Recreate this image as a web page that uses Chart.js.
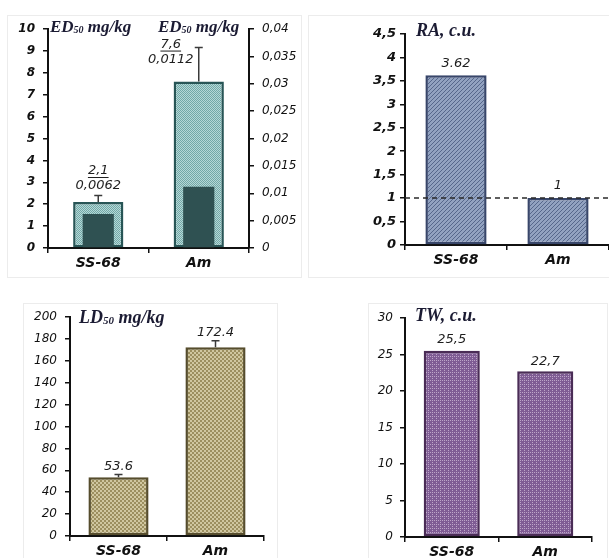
<!DOCTYPE html>
<html>
<head>
<meta charset="utf-8">
<title>ED50, RA, LD50, TW</title>
<script src="https://cdn.jsdelivr.net/npm/chart.js@4"></script>
<style>
body { margin: 0; background: #fff; }
#wrap { position: relative; width: 609px; height: 558px; overflow: hidden; }
canvas, .frame { position: absolute; }
.frame { border: 1px solid #ececec; box-sizing: border-box; }
</style>
</head>
<body>
<div id="wrap">
  <div class="frame" style="left:7px;top:15px;width:295px;height:263px"></div>
  <div class="frame" style="left:308px;top:15px;width:310px;height:263px"></div>
  <div class="frame" style="left:23px;top:303px;width:255px;height:270px"></div>
  <div class="frame" style="left:368px;top:303px;width:240px;height:270px"></div>
  <canvas id="edChart" width="300" height="280" style="left:0;top:0"></canvas>
  <canvas id="raChart" width="309" height="280" style="left:300px;top:0"></canvas>
  <canvas id="ldChart" width="300" height="278" style="left:0;top:280px"></canvas>
  <canvas id="twChart" width="309" height="278" style="left:300px;top:280px"></canvas>
</div>
<script>
const categories = ['SS-68', 'Am'];

// ED50, mg/kg (left axis) and the dark inner bars (right axis)
const ed50Doses = [2.1, 7.6];
const ed50Errors = [0.3, 1.55];
const ed50Molar = [0.0062, 0.0112];

// relative activity
const raValues = [3.62, 1];
const raReference = 1;

// LD50, mg/kg
const ld50Doses = [53.6, 172.4];
const ld50Errors = [2.5, 6];

// therapeutic width
const twValues = [25.5, 22.7];

const edTicks = [0, 1, 2, 3, 4, 5, 6, 7, 8, 9, 10];
const edMolarTicks = [0, 0.005, 0.01, 0.015, 0.02, 0.025, 0.03, 0.035, 0.04];
const raTicks = [0, 0.5, 1, 1.5, 2, 2.5, 3, 3.5, 4, 4.5];
const ldTicks = [0, 20, 40, 60, 80, 100, 120, 140, 160, 180, 200];
const twTicks = [0, 5, 10, 15, 20, 25, 30];

const comma = v => String(v).replace('.', ',');
const dot = v => String(v);

function makePattern(size, draw) {
    let c = document.createElement('canvas');
    c.width = c.height = size;
    let g = c.getContext('2d');
    draw(g, size);
    return g.createPattern(c, 'repeat');
}

const tealPattern = makePattern(2, g => {
    g.fillStyle = '#b6d8d7'; g.fillRect(0, 0, 2, 2);
    g.fillStyle = '#72a8a7'; g.fillRect(0, 0, 1, 1); g.fillRect(1, 1, 1, 1);
});
const bluePattern = makePattern(4, (g, s) => {
    g.fillStyle = '#92a2c0'; g.fillRect(0, 0, s, s);
    g.fillStyle = '#56678b';
    for (let i = 0; i < s; i++) g.fillRect(i, s - 1 - i, 1, 1);
});
const khakiPattern = makePattern(4, g => {
    g.fillStyle = '#d0c7a0'; g.fillRect(0, 0, 4, 4);
    g.fillStyle = '#9c8f5f'; g.fillRect(0, 0, 2, 2); g.fillRect(2, 2, 2, 2);
});
const purplePattern = makePattern(4, g => {
    g.fillStyle = '#7f5c94'; g.fillRect(0, 0, 4, 4);
    g.fillStyle = '#bda5c8';
    g.fillRect(0, 0, 1, 1); g.fillRect(2, 0, 1, 1); g.fillRect(0, 2, 1, 1);
});

const extras = {
    id: 'extras',
    afterDatasetsDraw(chart, args, o) {
        const ctx = chart.ctx;
        const area = chart.chartArea;
        ctx.save();

        if (o.refLine) {
            let y = chart.scales[o.refLine.axis].getPixelForValue(o.refLine.value);
            ctx.strokeStyle = '#2a2a2a';
            ctx.lineWidth = 1.5;
            ctx.setLineDash([5, 4]);
            ctx.beginPath();
            ctx.moveTo(area.left, y);
            ctx.lineTo(area.right, y);
            ctx.stroke();
            ctx.setLineDash([]);
        }

        if (o.errors) {
            let e = o.errors;
            let meta = chart.getDatasetMeta(e.dataset);
            let scale = chart.scales[meta.yAxisID];
            let data = chart.data.datasets[e.dataset].data;
            ctx.strokeStyle = '#3a3a3a';
            ctx.lineWidth = 1.5;
            meta.data.forEach((bar, i) => {
                let top = scale.getPixelForValue(data[i] + e.values[i]);
                ctx.beginPath();
                ctx.moveTo(bar.x, bar.y);
                ctx.lineTo(bar.x, top);
                ctx.moveTo(bar.x - e.cap, top);
                ctx.lineTo(bar.x + e.cap, top);
                ctx.stroke();
            });
        }

        (o.labels || []).forEach(l => {
            let meta = chart.getDatasetMeta(l.anchor);
            let scale = chart.scales[meta.yAxisID];
            let data = chart.data.datasets[l.anchor].data;
            ctx.font = 'italic 13px "DejaVu Sans"';
            ctx.fillStyle = '#1e1e1e';
            ctx.textAlign = 'center';
            ctx.textBaseline = 'middle';
            meta.data.forEach((bar, i) => {
                let top = l.errors ? scale.getPixelForValue(data[i] + l.errors[i]) : bar.y;
                let x = bar.x + (l.dx ? l.dx[i] : 0);
                let y = top + l.dy[i];
                let txt = l.format(l.values[i]);
                ctx.fillText(txt, x, y);
                if (l.underline) {
                    let w = ctx.measureText(txt).width;
                    ctx.fillRect(x - w / 2, y + 6, w, 1);
                }
            });
        });

        (o.titles || []).forEach(t => {
            let x = area.left + t.dx;
            let y = area.top + t.dy;
            ctx.fillStyle = '#1b1b33';
            ctx.textAlign = 'left';
            ctx.textBaseline = 'alphabetic';
            t.parts.forEach(p => {
                ctx.font = 'italic bold ' + p.size + 'px "Liberation Serif"';
                ctx.fillText(p.text, x, y + (p.sub ? 1 : 0));
                x += ctx.measureText(p.text).width;
            });
        });

        ctx.restore();
    }
};

function yAxis(ticks, width, font, position, padding) {
    return {
        position: position || 'left',
        min: ticks[0],
        max: ticks[ticks.length - 1],
        afterBuildTicks: s => { s.ticks = ticks.map(v => ({ value: v })); },
        afterFit: s => { s.width = width; },
        border: { display: true, color: '#111', width: 2 },
        grid: { drawOnChartArea: false, drawTicks: true, tickLength: 5, color: '#111', lineWidth: 1.5 },
        ticks: { padding: padding, color: '#111', font: font, callback: v => comma(v) }
    };
}

function xAxis(height) {
    return {
        afterFit: s => { s.height = height; },
        border: { display: true, color: '#111', width: 2 },
        grid: { drawOnChartArea: false, drawTicks: true, tickLength: 5, color: '#111', lineWidth: 1.5 },
        ticks: { padding: 2, color: '#111', font: { family: 'DejaVu Sans', size: 14, weight: 'bold', style: 'italic' } }
    };
}

const boldTick = { family: 'DejaVu Sans', size: 12, weight: 'bold', style: 'italic' };
const plainTick = { family: 'DejaVu Sans', size: 12, weight: 'normal', style: 'italic' };

function baseOptions(padding, scales, extraOpts) {
    return {
        responsive: false,
        animation: false,
        layout: { padding: padding },
        plugins: { legend: { display: false }, tooltip: { enabled: false }, extras: extraOpts },
        scales: scales
    };
}

function titleParts(main, sub, rest, size) {
    let parts = [{ text: main, size: size }];
    if (sub) parts.push({ text: sub, size: Math.round(size * 0.6), sub: true });
    if (rest) parts.push({ text: rest, size: size });
    return parts;
}

new Chart(document.getElementById('edChart'), {
    type: 'bar',
    data: {
        labels: categories,
        datasets: [{
            label: 'ED50 mg/kg',
            data: ed50Doses,
            yAxisID: 'y',
            backgroundColor: tealPattern,
            borderColor: '#285556',
            borderWidth: 2.5,
            borderSkipped: false,
            categoryPercentage: 1,
            barPercentage: 0.5,
            grouped: false,
            order: 2
        }, {
            label: 'ED50',
            data: ed50Molar,
            yAxisID: 'y2',
            backgroundColor: '#2f5152',
            borderWidth: 0,
            categoryPercentage: 1,
            barPercentage: 0.31,
            grouped: false,
            order: 1
        }]
    },
    options: baseOptions({ left: 0, right: 0, top: 29, bottom: 0 }, {
        x: xAxis(32),
        y: yAxis(edTicks, 48, boldTick, 'left', 8),
        y2: yAxis(edMolarTicks, 51, plainTick, 'right', 8)
    }, {
        errors: { dataset: 0, values: ed50Errors, cap: 4 },
        labels: [
            { anchor: 0, values: ed50Doses, format: comma, dx: [0, -28], dy: [-31, -37], underline: true },
            { anchor: 0, values: ed50Molar, format: comma, dx: [0, -28], dy: [-16, -22] }
        ],
        titles: [
            { dx: 2, dy: 3, parts: titleParts('ED', '50', ' mg/kg', 17) },
            { dx: 110, dy: 3, parts: titleParts('ED', '50', ' mg/kg', 17) }
        ]
    }),
    plugins: [extras]
});

new Chart(document.getElementById('raChart'), {
    type: 'bar',
    data: {
        labels: categories,
        datasets: [{
            label: 'RA, c.u.',
            data: raValues,
            backgroundColor: bluePattern,
            borderColor: '#38466a',
            borderWidth: 2.5,
            borderSkipped: false,
            categoryPercentage: 1,
            barPercentage: 0.6
        }]
    },
    options: baseOptions({ left: 0, right: 0, top: 34, bottom: 0 }, {
        x: xAxis(35),
        y: yAxis(raTicks, 105, { family: 'DejaVu Sans', size: 13, weight: 'bold', style: 'italic' }, 'left', 4)
    }, {
        refLine: { axis: 'y', value: raReference },
        labels: [{ anchor: 0, values: raValues, format: dot, dy: [-12, -12] }],
        titles: [{ dx: 11, dy: 2, parts: titleParts('RA, c.u.', null, null, 18) }]
    }),
    plugins: [extras]
});

new Chart(document.getElementById('ldChart'), {
    type: 'bar',
    data: {
        labels: categories,
        datasets: [{
            label: 'LD50 mg/kg',
            data: ld50Doses,
            backgroundColor: khakiPattern,
            borderColor: '#564d2d',
            borderWidth: 2.5,
            borderSkipped: false,
            categoryPercentage: 1,
            barPercentage: 0.62
        }]
    },
    options: baseOptions({ left: 0, right: 36, top: 37, bottom: 0 }, {
        x: xAxis(22),
        y: yAxis(ldTicks, 70, plainTick, 'left', 8)
    }, {
        errors: { dataset: 0, values: ld50Errors, cap: 4 },
        labels: [{ anchor: 0, values: ld50Doses, format: dot, errors: ld50Errors, dy: [-8, -8] }],
        titles: [{ dx: 9, dy: 6, parts: titleParts('LD', '50', ' mg/kg', 18) }]
    }),
    plugins: [extras]
});

new Chart(document.getElementById('twChart'), {
    type: 'bar',
    data: {
        labels: categories,
        datasets: [{
            label: 'TW, c.u.',
            data: twValues,
            backgroundColor: purplePattern,
            borderColor: '#4a2c56',
            borderWidth: 2.5,
            borderSkipped: false,
            categoryPercentage: 1,
            barPercentage: 0.6
        }]
    },
    options: baseOptions({ left: 0, right: 17, top: 38, bottom: 0 }, {
        x: xAxis(21),
        y: yAxis(twTicks, 105, plainTick, 'left', 7)
    }, {
        labels: [{ anchor: 0, values: twValues, format: comma, dy: [-11, -10] }],
        titles: [{ dx: 10, dy: 3, parts: titleParts('TW, c.u.', null, null, 18) }]
    }),
    plugins: [extras]
});
</script>
</body>
</html>
